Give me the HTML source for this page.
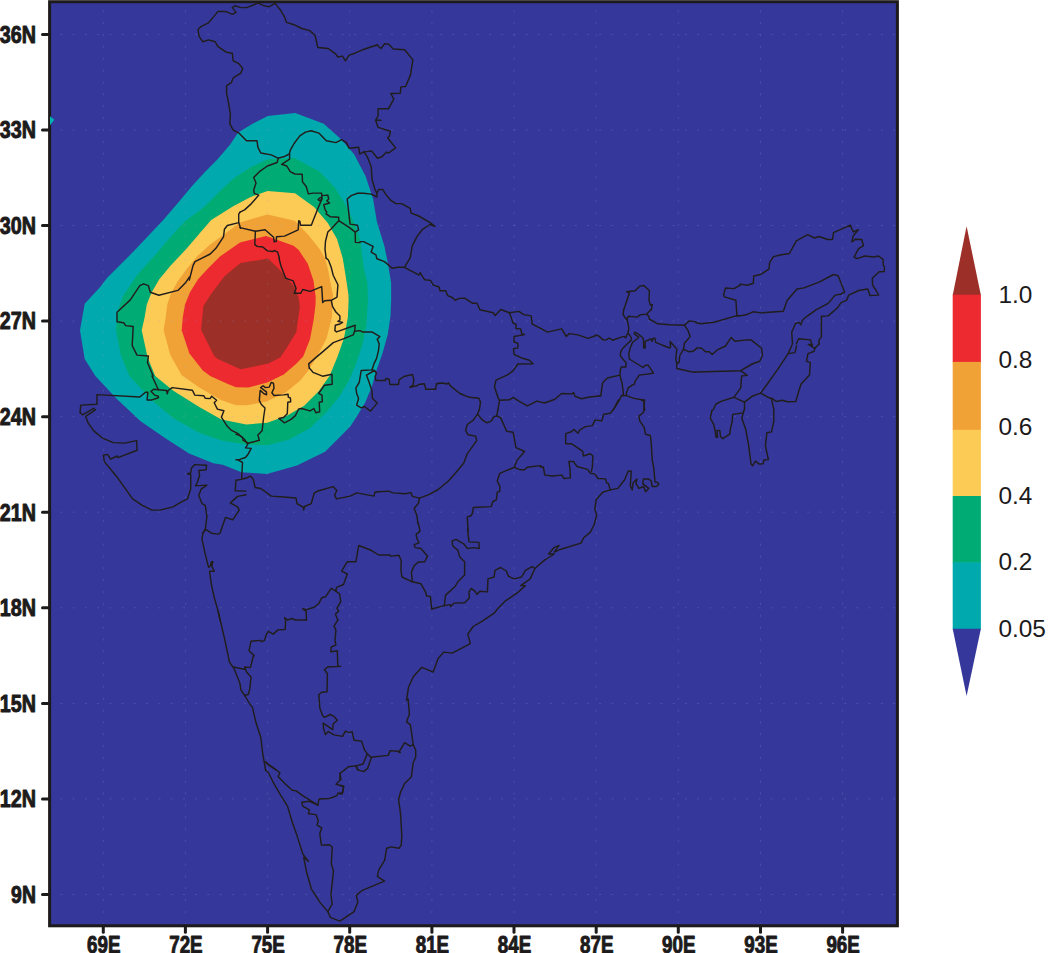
<!DOCTYPE html>
<html><head><meta charset="utf-8"><title>map</title>
<style>html,body{margin:0;padding:0;background:#fff;}body{width:1052px;height:953px;overflow:hidden;font-family:"Liberation Sans",sans-serif;}svg{display:block;}text{font-family:"Liberation Sans",sans-serif;}</style></head><body>
<svg width="1052" height="953" viewBox="0 0 1052 953">
<rect x="0" y="0" width="1052" height="953" fill="#ffffff"/>
<defs><clipPath id="clip"><rect x="49.6" y="1.7" width="847.8" height="924.0999999999999"/></clipPath></defs>
<rect x="49.6" y="1.7" width="847.8" height="924.0999999999999" fill="#35389a"/>
<g clip-path="url(#clip)">
<polygon points="267.8,116.0 295.2,113.1 323.7,123.8 340.8,139.0 354.1,154.2 365.5,176.0 373.1,198.9 376.9,221.7 384.5,246.4 388.3,265.4 391.1,282.8 391.2,300.0 390.5,316.0 387.8,334.6 382.5,353.2 375.9,371.9 371.9,386.5 365.2,402.5 357.2,415.8 350.6,426.0 342.4,434.5 325.1,451.8 297.0,465.6 267.0,474.0 241.5,472.2 222.8,464.7 213.4,463.3 189.1,453.6 166.5,439.0 140.6,421.2 116.4,398.6 95.4,376.0 84.7,358.9 80.0,330.3 84.7,303.7 100.0,287.3 106.8,278.2 134.2,250.8 163.3,220.0 180.0,200.4 191.4,186.7 204.0,173.0 217.6,159.3 230.2,144.5 238.2,132.5 253.0,123.4" fill="#00a9ad"/>
<polygon points="267.8,159.3 294.5,158.0 319.8,171.7 334.7,187.6 344.9,203.6 354.1,223.0 360.0,239.0 361.7,252.1 363.6,267.3 367.4,283.0 367.9,300.0 366.5,324.0 362.6,343.9 355.9,363.9 349.2,379.9 339.9,395.8 326.5,412.0 310.1,428.0 289.2,439.4 267.4,445.3 246.0,444.5 221.4,440.6 198.8,432.6 173.0,418.0 152.0,400.2 129.3,376.0 120.8,355.1 116.1,330.3 117.1,319.2 118.3,309.0 122.8,296.4 129.7,286.2 136.5,275.9 145.6,265.6 155.9,254.2 168.4,239.4 179.8,226.8 186.7,220.0 202.8,208.0 208.5,202.7 221.1,190.1 234.8,177.6 250.7,167.3" fill="#00ac73"/>
<polygon points="267.6,190.9 295.0,193.2 314.1,207.0 327.8,223.0 337.0,239.0 342.7,258.0 345.5,275.0 348.4,294.2 348.6,300.0 347.9,317.3 343.9,338.6 337.3,357.2 329.5,376.0 318.5,391.5 304.2,405.8 287.3,415.6 267.4,422.8 246.3,424.4 221.4,419.6 198.8,406.7 173.0,390.5 155.2,376.0 147.5,357.0 141.7,330.3 144.5,318.1 146.8,304.4 151.3,293.0 159.3,279.3 170.7,265.6 186.7,248.5 200.4,232.5 211.2,220.0 221.6,213.5 233.6,206.1 250.7,197.0" fill="#fccb56"/>
<polygon points="267.4,214.4 294.8,220.7 308.4,235.0 319.8,249.2 325.0,258.5 328.0,269.2 330.0,280.0 333.2,296.1 332.6,300.0 331.9,317.3 326.6,338.6 317.3,355.9 308.0,371.0 300.3,380.6 285.4,392.8 266.4,401.4 247.0,405.3 236.0,405.3 221.4,400.2 198.8,387.3 181.5,375.0 170.3,355.1 163.6,330.3 165.6,318.1 167.3,304.4 170.7,294.1 177.6,281.6 186.7,269.0 197.0,256.5 209.5,245.1 220.5,237.0 240.0,222.4" fill="#f0a236"/>
<polygon points="266.2,236.1 293.6,245.8 298.7,250.0 307.8,263.7 313.5,280.8 315.7,297.0 315.5,305.0 313.5,320.7 310.1,339.0 303.2,356.5 296.0,364.0 283.7,374.5 267.4,382.4 248.4,387.6 236.0,387.2 227.9,384.1 210.1,376.0 202.6,370.3 189.3,353.2 181.7,330.3 182.7,318.1 185.0,304.4 190.1,291.9 198.1,279.3 208.4,267.9 220.0,256.5 240.0,242.4" fill="#ec2a2f"/>
<polygon points="267.9,258.6 278.1,268.3 287.3,278.5 294.1,286.5 298.7,297.9 299.8,307.0 297.5,323.0 296.4,332.1 287.3,347.0 280.4,357.2 268.5,363.6 240.6,369.3 217.8,358.9 214.3,356.1 208.5,344.7 201.1,329.8 203.4,305.9 210.8,294.5 224.5,276.2 240.5,263.1" fill="#9c2f27"/>
<g stroke="#9a9ee0" stroke-opacity="0.36" stroke-width="0.6" fill="none"><line x1="60.25" y1="894.5" x2="897.4" y2="894.5" stroke-dasharray="2.3 9.945"/><line x1="60.25" y1="798.9" x2="897.4" y2="798.9" stroke-dasharray="2.3 9.945"/><line x1="60.25" y1="703.4" x2="897.4" y2="703.4" stroke-dasharray="2.3 9.945"/><line x1="60.25" y1="607.8" x2="897.4" y2="607.8" stroke-dasharray="2.3 9.945"/><line x1="60.25" y1="512.2" x2="897.4" y2="512.2" stroke-dasharray="2.3 9.945"/><line x1="60.25" y1="416.7" x2="897.4" y2="416.7" stroke-dasharray="2.3 9.945"/><line x1="60.25" y1="321.1" x2="897.4" y2="321.1" stroke-dasharray="2.3 9.945"/><line x1="60.25" y1="225.5" x2="897.4" y2="225.5" stroke-dasharray="2.3 9.945"/><line x1="60.25" y1="130.0" x2="897.4" y2="130.0" stroke-dasharray="2.3 9.945"/><line x1="60.25" y1="34.4" x2="897.4" y2="34.4" stroke-dasharray="2.3 9.945"/><line x1="103.3" y1="10.25" x2="103.3" y2="925.8" stroke-dasharray="2.3 9.55"/><line x1="185.4" y1="10.25" x2="185.4" y2="925.8" stroke-dasharray="2.3 9.55"/><line x1="267.6" y1="10.25" x2="267.6" y2="925.8" stroke-dasharray="2.3 9.55"/><line x1="349.7" y1="10.25" x2="349.7" y2="925.8" stroke-dasharray="2.3 9.55"/><line x1="431.9" y1="10.25" x2="431.9" y2="925.8" stroke-dasharray="2.3 9.55"/><line x1="514.0" y1="10.25" x2="514.0" y2="925.8" stroke-dasharray="2.3 9.55"/><line x1="596.2" y1="10.25" x2="596.2" y2="925.8" stroke-dasharray="2.3 9.55"/><line x1="678.3" y1="10.25" x2="678.3" y2="925.8" stroke-dasharray="2.3 9.55"/><line x1="760.5" y1="10.25" x2="760.5" y2="925.8" stroke-dasharray="2.3 9.55"/><line x1="842.6" y1="10.25" x2="842.6" y2="925.8" stroke-dasharray="2.3 9.55"/></g>
<g stroke="#211d1c" stroke-width="1.45" fill="none" stroke-linejoin="round" stroke-linecap="round">
<polyline points="275.1,3.4 269.4,6.7 263.7,5.7 257.9,2.9 254.1,4.8 246.5,7.6 240.8,7.6 235.1,5.7 232.3,7.6 236.1,12.4 232.3,14.3 225.6,11.4 218.0,11.4 213.3,17.1 208.5,22.8 200.9,26.6 198.1,29.5 199.0,36.1 202.8,41.8 208.5,39.9 215.2,41.8 218.0,46.6 226.6,52.3 232.3,53.2 233.2,60.8 238.9,63.7 242.7,68.4 240.8,73.2 233.2,77.9 231.3,82.7 226.6,85.6 226.6,93.2 228.5,102.7 230.4,114.1 229.8,123.6 233.2,130.2 238.9,133.1 246.5,140.7 257.0,140.7 257.9,147.3 260.8,153.0 271.3,154.9 277.9,158.2 283.6,156.8 289.3,154.0 290.3,150.2 294.1,143.5 299.8,135.9 305.5,132.1 311.2,130.8 318.8,133.1 326.4,140.7 335.9,142.6 341.6,139.7 346.3,142.6 349.2,148.3 358.7,147.3 359.7,154.0 363.5,152.1 370.1,151.1"/>
<polyline points="275.1,3.4 280.8,10.5 284.6,17.1 286.5,22.4 294.1,24.7 301.7,28.5 309.3,30.4 315.0,35.2 317.8,47.5 328.3,48.5 335.9,54.2 337.8,57.0 342.5,56.1 345.4,60.8 349.2,55.1 354.9,53.2 362.5,49.8 377.7,44.7"/>
<polyline points="369.9,151.1 371.8,151.1 377.5,158.2 381.9,156.8 386.6,152.1 388.5,153.0 395.6,147.9 387.6,137.8 389.5,135.9 390.4,131.2 378.1,127.4 375.6,120.2 380.9,120.2 375.6,120.2 378.1,116.0 378.1,108.7 388.5,108.7 393.8,99.2 390.8,93.5 400.3,93.2 400.9,86.9 405.6,86.5 410.4,75.1 412.9,59.9 404.7,49.8 393.3,49.0 388.5,44.1 384.7,43.7 380.9,48.5 377.1,45.2"/>
<polyline points="278.2,158.6 277.1,162.5 267.4,166.0 259.4,171.7 253.7,177.4 256.0,183.1 253.7,189.9 254.3,193.3 258.8,195.1 251.4,203.6 244.6,209.9 240.0,212.2"/>
<polyline points="289.6,154.0 289.6,159.1 281.6,164.3 286.8,166.0 290.2,171.7 294.8,174.0 302.2,174.2 302.5,181.9 306.2,186.5 308.4,193.9 313.0,193.1 321.6,193.1 321.9,197.3 319.8,197.9 318.1,199.6 319.8,200.8 321.9,199.0 321.9,197.3"/>
<polyline points="321.9,199.0 317.6,209.3 311.3,225.3 300.5,225.3 299.9,221.3 298.7,220.7 298.2,229.8 284.5,236.1 276.5,236.7 276.3,241.3 274.2,241.8 273.6,237.3 265.1,229.8 255.4,231.2 240.0,227.6"/>
<polyline points="255.4,231.2 254.8,244.7 257.1,246.4 262.8,247.0 267.4,250.9 273.1,251.5 274.2,250.4 277.6,252.1 279.4,258.0"/>
<polyline points="321.9,195.6 327.8,195.1 328.7,199.0 326.9,200.8 329.5,203.0 323.8,204.8 325.0,209.3 326.7,212.2 326.1,213.9 330.1,216.7 338.7,217.3 338.7,220.7 331.3,228.7 327.8,232.1 325.5,241.3 325.0,249.2 326.1,258.0"/>
<polyline points="338.7,220.7 349.5,227.6 355.2,232.1 358.6,229.8 357.5,225.3 350.1,224.1 348.9,213.9 347.2,199.0 351.2,195.6 357.5,193.3 360.0,193.3"/>
<polyline points="355.2,232.1 355.4,242.4 360.0,242.6"/>
<polyline points="363.6,151.3 367.4,157.0 371.2,166.5 372.1,179.8 375.0,189.4 376.9,193.2"/>
<polyline points="360.0,193.2 363.6,193.2 371.2,194.1 376.9,197.0 376.9,193.2 378.8,189.4 382.6,189.4 386.4,195.1 390.2,199.8 395.9,203.6 401.6,203.6 410.2,208.4 411.1,213.1 418.7,216.0 430.1,222.6 434.9,226.4 430.1,224.5 422.5,229.3 416.8,236.9 412.1,246.4 410.2,257.8 404.4,267.3"/>
<polyline points="360.0,241.6 363.6,241.6 373.1,246.4 371.2,252.1 375.9,254.9 376.9,258.7 384.5,261.6 392.1,268.3 397.8,267.3 404.4,267.3 418.7,274.9 420.6,273.0"/>
<polyline points="240.0,212.2 238.7,214.1 238.7,222.6 227.3,225.5 224.4,229.3 223.5,236.9 215.9,248.3 210.2,254.0 195.0,261.6 193.1,265.4 189.3,280.0"/>
<polyline points="238.7,222.6 240.6,228.3"/>
<polyline points="189.3,277.1 185.5,282.8 177.9,290.4 158.9,295.2 150.3,292.3 148.4,285.7 143.7,283.8 139.8,285.7 130.3,299.9 117.0,312.3 117.0,321.8 123.7,322.7 125.6,325.6 133.2,326.5 132.2,345.6 137.0,355.1 148.4,356.0 147.5,362.7 153.2,376.0"/>
<polyline points="152.0,376.0 158.4,389.7 153.6,389.3 151.1,391.4 155.2,395.4 158.4,396.2 158.4,397.8 152.0,399.9 147.1,399.9 147.9,392.2 145.5,392.2 139.8,397.0 97.0,394.6 97.0,404.3 80.8,405.1 80.0,412.4 82.5,414.8 93.8,408.3 95.4,409.9 85.7,416.4 88.1,422.9 93.8,430.9 102.7,438.2 113.2,442.6 124.5,443.1 136.6,440.6 137.1,450.3 118.0,457.6 117.2,456.0 110.7,459.2 107.5,454.4 103.5,455.2 104.3,461.6 116.4,476.2 132.6,498.8 142.3,505.3 152.0,510.1 160.0,510.1 173.0,506.9 181.0,502.1 187.5,498.8 190.7,489.1 190.7,474.6 187.5,473.8 190.7,473.0 191.5,468.1 194.8,464.6 206.6,465.2 206.1,469.7 198.8,470.5 199.6,475.4 197.2,482.7 195.6,485.9 206.9,485.1 201.2,489.1 198.8,495.6 202.1,503.7 205.3,505.3 206.9,516.6 205.3,529.0"/>
<polyline points="158.4,389.7 166.5,390.5 167.3,393.8 168.1,390.5 172.2,387.6 192.4,390.2 194.8,395.1 203.7,395.7 205.3,398.3 210.1,398.6 211.7,396.2 216.6,400.2 214.2,402.7 217.4,409.1 223.9,410.7 221.4,417.2 227.1,426.1 231.1,430.1 237.6,433.4 244.9,439.8 247.3,443.6"/>
<polyline points="237.6,459.7 242.5,462.5 241.6,479.4 236.0,480.2 235.2,490.7 246.0,491.1"/>
<polyline points="246.0,494.8 237.6,496.4 230.3,502.9 237.6,506.9 239.2,510.1 232.8,519.8 225.5,517.4 221.4,529.0"/>
<polyline points="279.0,258.1 280.9,265.7 285.6,278.1 293.2,280.9 296.1,288.5 294.2,293.3 300.8,293.3 302.7,289.5 310.3,291.4 321.7,286.6 322.7,302.6 324.6,300.7 331.3,300.3 337.0,297.1 337.9,284.7 333.2,275.2 331.3,267.6 328.4,260.0 326.1,258.1"/>
<polyline points="331.3,300.7 332.6,306.7 335.9,312.0 339.9,316.0 339.9,320.0 337.9,321.3 342.6,322.4 339.9,324.0 335.3,325.3 334.9,330.6 336.6,331.9 355.2,325.3 354.6,331.3 353.2,334.9 343.9,338.6 333.3,342.6 322.6,351.9 314.6,358.6 308.7,363.9 309.3,367.9"/>
<polyline points="354.6,331.3 359.9,330.6 362.5,331.9 371.9,331.9 379.9,336.6 377.2,339.3 379.2,343.9 378.5,350.6 376.5,358.6 373.9,363.9 371.9,369.9 361.2,370.5 359.2,382.5 355.9,387.8 356.6,393.2 358.6,398.5 356.6,405.1 361.2,407.8 364.5,406.5 370.5,411.1 377.2,403.1 372.5,398.5 371.9,390.5 369.2,382.5 366.5,375.2 374.5,370.5 376.5,373.2 375.2,376.5 375.9,380.5 385.2,380.5 385.8,378.5 389.2,379.2 389.8,384.5 398.5,384.5 399.1,379.9 403.8,376.5 412.5,374.5 413.8,379.9 413.1,385.2 409.8,387.2 417.1,385.8 418.4,384.5 424.4,383.8 425.8,389.2 435.7,389.2 436.4,383.8 440.0,383.2"/>
<polyline points="371.9,369.9 374.5,370.5"/>
<polyline points="309.2,368.1 311.1,370.0 313.0,372.4 322.5,376.2 332.0,374.3 332.2,384.3 324.4,385.2 322.5,388.1 318.7,393.3 322.0,395.2 322.3,401.8 319.2,402.3 319.7,411.8 315.8,412.8 313.9,408.5 310.1,410.9 301.6,408.5 298.7,409.0 295.4,415.6 291.1,419.4 284.5,422.8 278.8,418.5 283.5,417.5 287.3,413.7 287.8,402.3 290.7,401.8 290.4,398.0 288.3,397.1 288.1,394.2 283.5,394.9 274.0,395.5 271.9,392.8 274.0,388.1 273.5,383.3 271.2,382.4 269.3,387.1 265.5,387.6 263.1,385.7 260.7,387.6 266.4,391.9 266.6,394.7 264.0,393.8 260.2,390.4 259.3,400.4 261.2,404.2 265.0,408.0 263.6,417.5 262.1,430.8 257.9,435.1 259.3,440.3 247.9,443.2 246.5,442.2 243.1,440.3 242.7,437.5 238.9,435.1 236.0,434.2"/>
<polyline points="247.9,443.2 247.4,445.1 245.5,447.9 251.2,448.4 248.4,453.7 245.5,457.5 239.8,459.4 236.0,459.8"/>
<polyline points="420.0,272.8 424.8,279.8 430.5,280.4 433.3,285.1 439.0,287.0 440.0,290.8 445.7,290.8 447.6,295.6 452.3,297.5 455.2,300.3 459.0,298.4 464.7,298.1 472.3,303.2 477.0,303.2 479.9,309.8 493.2,312.7 495.1,315.6 500.8,309.5 509.4,312.7 518.9,311.4 523.6,314.6 531.2,315.9 532.2,324.1 541.7,328.9 547.4,332.1 561.6,328.9 566.4,336.5 569.2,333.6 577.8,334.9 588.3,338.4 595.9,335.5"/>
<polyline points="509.4,312.7 513.2,323.2 516.0,324.1 516.0,328.5 520.8,328.9 521.7,333.6 524.6,334.6 514.1,336.5 514.1,342.2 517.9,343.1 517.9,347.9 513.5,348.8 514.1,354.5 522.7,358.3 529.3,360.2 533.1,363.7 517.9,364.0 513.2,370.7 507.5,374.9 496.0,380.2 494.5,386.8 497.9,397.3 499.5,400.2 497.9,410.0"/>
<polyline points="499.5,400.2 509.4,399.8 513.2,397.3 518.9,401.1 527.4,405.9 536.9,401.1 544.5,403.0 555.0,399.2 561.6,393.5 572.1,393.9 573.6,392.5 574.9,396.3 581.6,398.8 588.3,397.3 600.6,395.8"/>
<polyline points="436.7,383.6 442.8,383.0 446.6,384.0 448.5,383.0 450.4,385.9 459.9,393.5 469.4,397.3 478.9,398.3 480.5,402.1 479.3,410.0"/>
<polyline points="596.0,334.9 598.9,336.1 603.1,339.9 606.5,339.7 609.3,338.0 612.6,340.2 619.8,337.6 624.0,336.4 625.9,338.0 626.9,334.7 627.8,333.3"/>
<polyline points="623.6,310.0 623.1,314.3 625.0,317.6 626.9,319.5 628.3,316.2 636.9,317.1 640.7,314.6 646.4,314.3 650.7,310.0"/>
<polyline points="646.4,314.3 648.8,316.2 649.2,319.0 657.8,323.8 670.1,324.7 684.4,325.2 689.2,320.9 696.0,321.9"/>
<polyline points="626.9,319.5 628.3,324.3 628.8,329.0 627.8,333.3 629.3,334.7 631.2,337.6 631.0,340.4 626.4,344.7 622.6,348.5 620.7,351.8 620.2,355.6 623.1,359.4 625.9,362.3 625.9,367.0 621.2,367.0 620.2,370.8 619.8,375.1 607.4,378.0 602.7,382.7 601.7,388.9 600.8,395.6 599.8,396.0"/>
<polyline points="619.8,375.1 622.1,383.2 623.1,390.8 623.6,395.6"/>
<polyline points="623.6,395.6 626.4,395.6 634.0,398.4 641.6,399.8"/>
<polyline points="626.4,395.6 626.4,392.7 628.3,387.9 632.1,385.1 634.5,384.1 635.0,381.3 639.3,375.1 653.5,373.2 648.8,366.1 647.8,365.1 645.4,365.3 643.1,367.5 629.3,359.0 628.8,353.7 630.2,348.0 632.6,342.3 637.8,338.3 638.8,337.1 634.5,334.2 634.5,332.1 637.3,333.3 643.1,338.0 643.5,340.4 643.7,348.0 645.2,348.0 645.2,341.4 650.7,339.0 652.1,341.4 652.6,338.5 654.9,338.3 655.7,342.3 662.5,345.2 669.7,348.0 670.6,346.6 670.1,341.4 676.8,349.0 675.8,359.4 676.8,363.2 676.8,368.5 691.1,371.8 696.0,372.3"/>
<polyline points="676.8,363.2 679.2,362.3 679.7,355.6 683.5,349.4 684.4,343.3 690.1,336.6 688.2,330.9 684.4,325.2"/>
<polyline points="683.5,349.4 689.2,351.8 693.0,351.3 696.0,349.0"/>
<polyline points="623.6,310.0 625.7,304.1 629.5,292.7 626.6,291.8 635.2,290.8 639.9,286.1 643.7,285.5 649.4,290.5 649.0,300.3 650.4,305.1 652.3,304.5 651.3,309.8 650.6,310.0"/>
<polyline points="696.0,322.8 700.8,323.7 714.1,322.2 736.9,315.6 739.9,315.6"/>
<polyline points="736.9,315.6 735.9,300.3 724.5,296.9 723.6,294.6 725.5,288.0 734.0,288.6 740.7,284.8"/>
<polyline points="696.0,348.8 697.0,347.9 701.7,348.3 705.5,351.7 709.3,351.7 712.2,354.5 716.9,350.2 725.5,346.0 731.2,337.4 735.0,341.2 746.4,339.9 751.1,339.9 761.6,348.3 762.5,355.5 759.7,361.2 752.1,364.0 740.7,370.7 696.0,372.0"/>
<polyline points="740.7,370.7 747.3,375.4 741.6,376.0 740.7,387.8 734.0,397.3 721.7,401.1 716.0,404.0 713.1,410.0"/>
<polyline points="734.0,397.3 744.5,402.1 744.5,410.0"/>
<polyline points="744.5,402.1 752.1,396.3 760.6,393.1 770.2,398.3"/>
<polyline points="760.6,393.1 767.3,384.0 776.8,370.7 788.2,353.6 792.0,345.0"/>
<polyline points="788.2,353.6 794.9,352.6 796.6,346.0"/>
<polyline points="618.3,400.0 613.3,410.0"/>
<polyline points="641.6,399.8 643.7,401.1 644.7,410.0"/>
<polyline points="740.0,284.1 747.6,285.2 753.4,283.3 753.7,276.0 760.5,274.5 768.9,269.2 769.7,262.4 773.5,256.6 781.1,254.8 789.4,253.5 796.3,240.8 807.7,234.7 814.5,238.0 819.1,236.5 827.5,239.5 832.5,239.5 833.5,232.7 850.3,225.1 853.3,231.9 858.3,229.7 853.3,235.7 851.8,241.8 855.6,239.2 861.7,239.5 863.5,245.6 858.6,248.7 854.1,257.0 857.1,258.6 864.7,256.0 873.8,257.0 878.4,256.0 883.0,259.3 883.3,265.4 884.5,266.9 884.2,271.5 879.2,271.8 872.3,278.3 872.6,285.2 876.1,290.5 878.7,295.1 870.0,295.5 867.8,289.0 858.6,290.5 848.7,295.1 846.5,300.4 841.1,302.7 837.3,308.0 828.2,315.9 821.4,316.3 821.4,336.9 819.1,339.9 819.1,344.0"/>
<polyline points="737.0,316.0 740.0,315.9 746.1,314.8 752.9,311.8 761.3,312.9 783.3,311.3 787.1,300.4 797.0,289.0 803.9,287.9 819.1,282.1 833.5,274.5 838.1,275.7 844.6,292.0 840.4,294.3 835.1,295.1 828.2,303.4 816.0,309.8 806.9,316.3 802.4,320.2 800.8,324.7 799.0,322.4 795.5,323.5 791.7,332.3 792.5,344.0"/>
<polyline points="796.3,344.0 798.6,338.7 810.7,339.9 811.5,344.0"/>
<polyline points="811.5,344.0 812.5,345.2 808.3,344.4 814.8,348.3 819.1,344.0"/>
<polyline points="814.8,348.3 814.1,351.3 808.0,353.6 806.5,361.2 810.3,362.7 809.5,374.9 801.1,384.0 798.9,390.8 795.8,401.5 787.5,401.8 782.1,400.3 776.0,401.5 772.2,398.4 770.1,398.3"/>
<polyline points="712.0,410.0 710.3,418.2 713.7,424.3 715.2,431.1 716.0,437.2 717.5,437.2 717.0,430.4 719.8,430.4 720.5,436.5 722.8,438.7 729.7,434.2 730.4,428.9 732.2,421.3 732.7,414.4 743.3,412.9 744.0,410.0"/>
<polyline points="743.3,412.9 741.8,418.2 745.6,428.9 748.7,445.6 751.0,463.8 752.5,465.8 755.5,461.1 759.3,464.1 763.1,463.8 763.9,460.0 768.4,459.6 765.4,445.6 766.9,432.7 771.5,431.9 773.8,421.3 773.8,409.1 771.5,399.2"/>
<polyline points="623.7,395.6 621.7,395.2 618.9,400.9 614.1,408.5 610.3,413.3 603.7,414.2 601.8,420.9 595.1,419.9 592.3,425.6 585.6,426.6 579.9,429.8 578.0,433.2 573.8,429.4 571.4,431.7 565.7,433.6 565.7,443.7 571.4,443.7 582.8,451.3 583.3,456.0 590.4,453.8 592.9,456.0 592.3,467.5 591.3,471.3"/>
<polyline points="641.7,399.8 644.6,400.0 643.6,412.3 638.9,416.1 639.8,420.9 644.2,427.5 645.5,434.2 650.3,435.5 651.2,442.7 652.2,459.8 653.7,467.5 655.0,481.7 657.9,482.7 658.8,484.2 656.3,486.5 652.2,486.5 651.2,480.8 648.4,478.9 643.6,478.9 642.7,483.6 648.7,488.4 645.5,491.8 643.6,486.5 638.9,488.4 636.0,483.6 637.0,478.9 633.2,482.7 632.2,489.9 630.3,485.5 631.3,471.3 628.4,470.9 624.6,479.8 617.9,488.4 610.3,489.9 602.7,492.2 596.1,499.8 594.8,509.3 596.7,515.0 594.2,524.5 590.4,532.1 583.7,537.8 580.9,543.1 560.9,549.2 554.3,552.1 559.0,545.4 554.3,547.3 548.6,554.0 554.3,554.0 544.8,560.0"/>
<polyline points="610.3,489.9 608.4,483.6 606.5,482.7 605.6,478.9 598.0,478.5 595.1,474.1 590.4,473.2 587.5,469.4 577.1,466.5 573.3,461.4 568.9,461.4 570.0,469.4 570.4,477.9 563.8,478.5 561.9,475.1 552.4,476.0 544.8,475.1 543.4,467.5 540.0,466.5"/>
<polyline points="479.2,409.9 477.5,414.2 473.3,420.2 467.3,424.5 465.6,430.5 468.1,434.8 475.8,436.1 476.7,440.7 472.4,446.7 467.3,453.6 463.8,463.0 455.3,473.3 448.4,481.0 438.2,489.5 428.8,494.6 419.4,498.1 412.5,496.4 410.8,492.6 405.7,493.8 392.8,492.9 388.6,491.2 380.0,491.6"/>
<polyline points="419.4,498.1 418.5,503.2 414.2,508.3 416.8,515.2 418.0,523.7"/>
<polyline points="477.5,414.2 482.7,420.2 486.9,422.8 491.2,421.1 493.8,416.8 496.7,415.9 497.9,409.9"/>
<polyline points="496.7,415.9 500.6,417.6 506.6,431.3 513.1,432.2 516.0,447.6 524.6,451.5 516.9,460.4 514.3,467.3 520.3,469.8 524.6,469.8 527.2,467.3 540.0,465.6 543.4,467.4"/>
<polyline points="514.3,467.3 499.8,473.3 497.2,481.0 499.8,486.1 499.8,491.2 497.2,492.1 496.4,499.8 492.9,501.5 491.2,506.6 473.3,507.5 472.4,513.5 470.7,516.0 467.3,516.9 468.1,530.6"/>
<polyline points="221.5,529.0 220.0,533.2 218.1,534.1 211.4,533.2 205.7,529.4 202.9,533.2"/>
<polyline points="205.3,529.0 202.9,533.2 201.9,538.9 204.8,552.2 207.6,563.6 208.6,567.4 210.5,565.5 211.4,561.7 212.9,561.7 211.8,566.4 214.3,571.2 209.5,571.2 211.4,584.5 214.3,597.8 218.1,611.1 220.0,620.0"/>
<polyline points="242.8,479.0 246.6,478.0 250.4,476.1 253.2,479.0 255.1,487.5 260.8,488.5 271.3,496.1 283.7,497.0 296.0,498.0 297.0,503.7 303.6,507.5 303.6,510.0 304.6,506.5 311.2,503.7 314.1,493.2 317.9,491.0 333.1,486.6 336.9,490.4 334.6,495.1 336.5,498.9 350.2,496.1 356.8,492.9 374.0,496.1 374.9,492.3 380.0,491.5"/>
<polyline points="390.1,555.0 378.7,555.0 371.1,550.3 358.7,545.5 355.9,561.7 347.3,561.7 341.6,571.2 347.3,574.0 343.5,584.5 336.5,587.3 335.9,591.1 331.2,588.3 325.5,596.8 321.7,597.8 318.8,603.5 314.1,607.3 306.5,609.6 302.7,608.8 306.1,611.1 306.5,620.0"/>
<polyline points="335.9,591.1 339.7,594.0 340.7,601.6 336.9,608.3 338.8,611.1 335.4,614.0 337.8,620.0"/>
<polyline points="417.6,522.3 419.0,525.7 419.9,531.4 416.1,534.3 417.1,539.0 419.0,542.8 414.2,544.7 415.2,547.6 420.9,548.5 427.5,556.1 424.7,561.8 418.0,562.2 414.2,565.6 411.4,572.3 412.3,581.8"/>
<polyline points="389.9,555.7 391.4,556.1 399.0,555.2 401.3,560.9 400.9,569.4 401.9,577.0 412.3,581.8 420.9,583.7 425.6,592.2 426.6,596.0 430.4,596.4 431.7,609.0"/>
<polyline points="467.6,528.6 467.8,531.4 469.0,541.9 478.9,542.4 479.2,548.5 473.2,547.6 467.5,548.5 463.7,543.8 456.0,539.4 452.2,540.9 452.6,545.7 457.9,550.4 459.8,557.1 464.6,561.8 464.6,575.1 457.9,581.8 455.1,586.5 445.6,595.1 444.3,605.6"/>
<polyline points="431.7,609.0 444.3,605.6 450.3,604.6 450.7,606.5 454.1,603.1 464.6,602.7 469.4,597.9 469.0,591.9 471.3,588.4 475.1,591.3 477.0,594.5 479.8,591.3 487.4,591.9 488.0,578.9 494.1,577.0 495.0,570.4 500.7,567.5 506.4,571.0 508.3,576.1 514.0,578.9 521.6,577.0 525.4,570.4 532.1,566.6 534.9,568.5"/>
<polyline points="544.8,559.9 534.9,568.5 530.2,578.9 520.7,585.6 525.4,585.6 516.9,593.2 505.5,600.8 497.9,608.4 494.1,613.2 482.7,620.8 473.2,626.5 467.8,634.1 470.3,643.6 452.2,653.1 443.7,652.1 438.0,658.8 433.2,672.1 421.8,667.3 413.3,676.8 408.5,687.3 406.6,700.0"/>
<polyline points="218.1,611.1 219.0,614.7 224.7,639.4 229.5,662.2 234.2,668.9 239.9,683.2 240.9,689.8 244.7,695.5 250.4,705.0 252.3,706.9 256.1,723.1 260.8,737.3 262.7,753.5 265.6,770.0"/>
<polyline points="233.3,667.0 245.6,669.5 246.6,672.1 251.0,677.1 249.8,688.9 248.5,694.2 244.7,695.5"/>
<polyline points="306.5,620.0 305.5,620.0 295.1,620.0 292.2,618.5 287.5,620.0 284.6,617.6 285.6,620.4 285.2,629.5 277.9,629.9 273.2,634.1 268.4,631.4 266.2,634.7 264.6,640.4 261.8,641.7 260.8,640.4 251.0,641.3 249.0,650.8 254.2,655.6 253.2,656.5 250.4,667.6 244.7,667.0 245.6,669.5"/>
<polyline points="337.8,620.0 334.0,626.1 335.9,629.9 335.0,640.4 335.9,645.1 331.2,647.0 330.8,651.8 337.3,650.8 337.8,666.0 340.7,666.4 327.4,667.0 324.5,669.8 327.4,673.7 327.0,691.7 321.7,692.3 318.8,694.6 319.8,707.9 322.6,715.5 324.5,717.4 330.2,714.5 334.0,716.4 337.3,720.2 333.1,724.0 332.7,729.7 323.2,723.1 323.6,728.8 325.5,734.5 328.3,731.6 334.0,734.9 342.6,736.4 345.4,731.1 349.2,732.6 352.1,731.6 354.0,740.2 361.6,741.1 364.4,749.7 367.3,753.9 363.1,764.0 355.9,765.9 357.8,770.0"/>
<polyline points="367.3,753.9 371.1,757.3 388.2,755.4 390.1,750.6 397.7,751.2 400.0,752.5"/>
<polyline points="355.9,765.9 348.3,766.8 344.5,770.0"/>
<polyline points="265.6,762.1 268.4,764.9 276.0,770.0"/>
<polyline points="406.5,700.0 408.1,699.0 409.4,714.2 406.5,721.8 410.3,724.7 411.9,735.1 413.2,744.6 415.7,750.3 415.7,757.0 413.2,762.7 411.3,777.0 404.6,783.6 400.5,792.2 398.6,799.8 400.5,813.1 401.2,824.5 401.8,835.9 401.2,845.4 398.9,848.3 391.3,846.9 386.6,848.3 384.7,860.0"/>
<polyline points="400.1,752.4 398.9,752.2 404.6,742.7 410.3,746.2 413.2,744.6"/>
<polyline points="356.0,765.9 357.9,769.9 363.8,771.6 367.6,768.4 371.4,757.4"/>
<polyline points="340.0,773.2 341.0,779.8"/>
<polyline points="340.0,785.5 343.8,786.5 341.9,794.1 340.0,794.1"/>
<polyline points="265.5,770.0 268.5,772.8 274.2,784.2 280.9,795.6 287.5,806.1 292.3,822.2 297.0,835.6 302.7,853.6 304.6,856.5 308.4,861.2 303.7,857.4 306.5,871.7 311.3,888.8 319.8,902.1 327.8,911.6 330.3,917.3 339.8,921.1 354.1,911.6 357.9,902.1 356.3,895.4 361.7,890.7 384.5,881.2 377.3,876.4 378.8,869.8 384.7,860.1"/>
<polyline points="265.7,762.0 268.5,764.3 275.2,769.0 279.9,772.8 278.0,776.6 285.6,784.2 292.3,790.3 296.1,790.9 302.7,795.6 309.4,799.8 317.9,805.1 318.9,799.0 329.4,798.5 337.0,795.6 337.9,793.3 342.7,792.8 343.6,786.1 336.0,784.2 339.8,780.4 340.4,772.8 344.6,770.0"/>
<polyline points="317.9,805.1 309.4,801.3 301.8,802.3 302.7,806.1 309.4,809.9 308.4,813.7 316.0,814.6 318.3,820.7 317.0,825.1 321.7,827.9 319.8,833.7 321.4,845.1 329.4,844.7 332.2,847.0 331.3,864.1 333.5,870.7 332.2,883.1 330.9,894.5 332.2,904.0 327.8,911.6"/>
</g>
</g>
<rect x="49.6" y="1.7" width="847.8" height="924.0999999999999" fill="none" stroke="#1c1a1b" stroke-width="3"/>
<polygon points="50,116.2 54.3,119.7 50,125.3" fill="#00b4b4"/>
<g stroke="#1c1a1b" stroke-width="3" stroke-linecap="round"><line x1="42.5" y1="894.5" x2="49.6" y2="894.5"/><line x1="42.5" y1="798.9" x2="49.6" y2="798.9"/><line x1="42.5" y1="703.4" x2="49.6" y2="703.4"/><line x1="42.5" y1="607.8" x2="49.6" y2="607.8"/><line x1="42.5" y1="512.2" x2="49.6" y2="512.2"/><line x1="42.5" y1="416.7" x2="49.6" y2="416.7"/><line x1="42.5" y1="321.1" x2="49.6" y2="321.1"/><line x1="42.5" y1="225.5" x2="49.6" y2="225.5"/><line x1="42.5" y1="130.0" x2="49.6" y2="130.0"/><line x1="42.5" y1="34.4" x2="49.6" y2="34.4"/><line x1="103.3" y1="925.8" x2="103.3" y2="932.2"/><line x1="185.4" y1="925.8" x2="185.4" y2="932.2"/><line x1="267.6" y1="925.8" x2="267.6" y2="932.2"/><line x1="349.7" y1="925.8" x2="349.7" y2="932.2"/><line x1="431.9" y1="925.8" x2="431.9" y2="932.2"/><line x1="514.0" y1="925.8" x2="514.0" y2="932.2"/><line x1="596.2" y1="925.8" x2="596.2" y2="932.2"/><line x1="678.3" y1="925.8" x2="678.3" y2="932.2"/><line x1="760.5" y1="925.8" x2="760.5" y2="932.2"/><line x1="842.6" y1="925.8" x2="842.6" y2="932.2"/></g>
<g font-size="23.4" font-weight="bold" fill="#1c1a1b" stroke="#1c1a1b" stroke-width="0.95" stroke-linejoin="round"><text x="35.9" y="902.8" text-anchor="end" textLength="24.8" lengthAdjust="spacingAndGlyphs">9N</text><text x="35.9" y="807.2" text-anchor="end" textLength="36.2" lengthAdjust="spacingAndGlyphs">12N</text><text x="35.9" y="711.7" text-anchor="end" textLength="36.2" lengthAdjust="spacingAndGlyphs">15N</text><text x="35.9" y="616.1" text-anchor="end" textLength="36.2" lengthAdjust="spacingAndGlyphs">18N</text><text x="35.9" y="520.5" text-anchor="end" textLength="36.2" lengthAdjust="spacingAndGlyphs">21N</text><text x="35.9" y="425.0" text-anchor="end" textLength="36.2" lengthAdjust="spacingAndGlyphs">24N</text><text x="35.9" y="329.4" text-anchor="end" textLength="36.2" lengthAdjust="spacingAndGlyphs">27N</text><text x="35.9" y="233.8" text-anchor="end" textLength="36.2" lengthAdjust="spacingAndGlyphs">30N</text><text x="35.9" y="138.3" text-anchor="end" textLength="36.2" lengthAdjust="spacingAndGlyphs">33N</text><text x="35.9" y="42.7" text-anchor="end" textLength="36.2" lengthAdjust="spacingAndGlyphs">36N</text><text x="103.8" y="952.5" text-anchor="middle" textLength="33.4" lengthAdjust="spacingAndGlyphs">69E</text><text x="185.9" y="952.5" text-anchor="middle" textLength="33.4" lengthAdjust="spacingAndGlyphs">72E</text><text x="268.1" y="952.5" text-anchor="middle" textLength="33.4" lengthAdjust="spacingAndGlyphs">75E</text><text x="350.2" y="952.5" text-anchor="middle" textLength="33.4" lengthAdjust="spacingAndGlyphs">78E</text><text x="432.4" y="952.5" text-anchor="middle" textLength="33.4" lengthAdjust="spacingAndGlyphs">81E</text><text x="514.5" y="952.5" text-anchor="middle" textLength="33.4" lengthAdjust="spacingAndGlyphs">84E</text><text x="596.7" y="952.5" text-anchor="middle" textLength="33.4" lengthAdjust="spacingAndGlyphs">87E</text><text x="678.8" y="952.5" text-anchor="middle" textLength="33.4" lengthAdjust="spacingAndGlyphs">90E</text><text x="761.0" y="952.5" text-anchor="middle" textLength="33.4" lengthAdjust="spacingAndGlyphs">93E</text><text x="843.1" y="952.5" text-anchor="middle" textLength="33.4" lengthAdjust="spacingAndGlyphs">96E</text></g>
<polygon points="952.7,295.2 966.6,226.3 980.9,295.2" fill="#9c2f27"/><rect x="952.7" y="294.7" width="28.2" height="67.7" fill="#ec2a2f"/><rect x="952.7" y="361.9" width="28.2" height="68.4" fill="#f0a236"/><rect x="952.7" y="429.8" width="28.2" height="66.7" fill="#fccb56"/><rect x="952.7" y="496.0" width="28.2" height="66.9" fill="#00ac73"/><rect x="952.7" y="562.4" width="28.2" height="66.9" fill="#00a9ad"/><polygon points="952.7,628.8 966.6,696 980.9,628.8" fill="#35389a"/>
<g font-size="24.4" fill="#1c1a1b"><text x="998.4" y="303.2">1.0</text><text x="998.4" y="368.3">0.8</text><text x="998.4" y="435.3">0.6</text><text x="998.4" y="504.3">0.4</text><text x="998.4" y="570.0">0.2</text><text x="998.4" y="637.3">0.05</text></g>
</svg></body></html>
